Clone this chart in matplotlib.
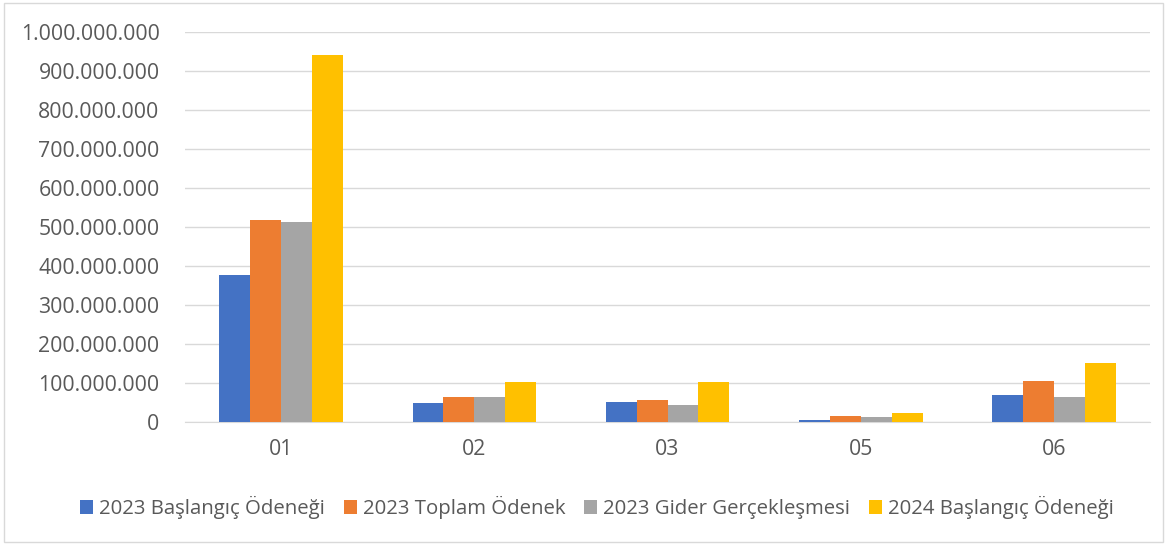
import numpy as np
import matplotlib.pyplot as plt
from matplotlib.patches import Rectangle
from matplotlib.ticker import FuncFormatter

# dane
kategorie = ['01', '02', '03', '05', '06']
seria_nazwy = ['2023 Başlangıç Ödeneği', '2023 Toplam Ödenek',
               '2023 Gider Gerçekleşmesi', '2024 Başlangıç Ödeneği']
baslangic_2023 = [377e6, 49e6, 52e6, 6e6, 70e6]
toplam_2023 = [517e6, 63e6, 57e6, 15e6, 106e6]
gider_2023 = [514e6, 63e6, 43e6, 13e6, 65e6]
baslangic_2024 = [941e6, 103e6, 102e6, 24e6, 152e6]
kolory = ['#4472C4', '#ED7D31', '#A5A5A5', '#FFC000']

plt.rcParams['font.family'] = ['Open Sans', 'DejaVu Sans']

fig = plt.figure(figsize=(11.68, 5.45), dpi=100)
ax = fig.add_axes([0.158, 0.2257, 0.827, 0.7156])

x = np.arange(len(kategorie))
w = 0.16
serie = [baslangic_2023, toplam_2023, gider_2023, baslangic_2024]
for i, (vals, name, c) in enumerate(zip(serie, seria_nazwy, kolory)):
    ax.bar(x + (i - 1.5) * w, vals, w, color=c, label=name, zorder=3)

ax.set_xlim(-0.5, len(kategorie) - 0.5)
ax.set_ylim(0, 1e9)
ax.set_yticks(np.arange(0, 1.0001e9, 1e8))
ax.yaxis.set_major_formatter(FuncFormatter(lambda v, p: f'{int(round(v)):,}'.replace(',', '.')))
ax.grid(axis='y', color='#D9D9D9', linewidth=1, zorder=0)
for s in ['top', 'right', 'left']:
    ax.spines[s].set_visible(False)
ax.spines['bottom'].set_color('#D9D9D9')
ax.tick_params(axis='both', length=0, colors='#595959', labelsize=15.3)
ax.tick_params(axis='y', pad=18)
ax.tick_params(axis='x', pad=12)
ax.set_xticks(x)
ax.set_xticklabels(kategorie)

fig.legend(loc='center', bbox_to_anchor=(0.511, 0.069), ncol=4, frameon=False,
           fontsize=14.7, handlelength=0.65, handleheight=0.65, handletextpad=0.3,
           columnspacing=0.9, labelcolor='#595959')

fig.patches.append(Rectangle((0.003, 0.006), 0.993, 0.988, transform=fig.transFigure,
                             fill=False, edgecolor='#D9D9D9', linewidth=1))

plt.savefig('out.png', dpi=100)
